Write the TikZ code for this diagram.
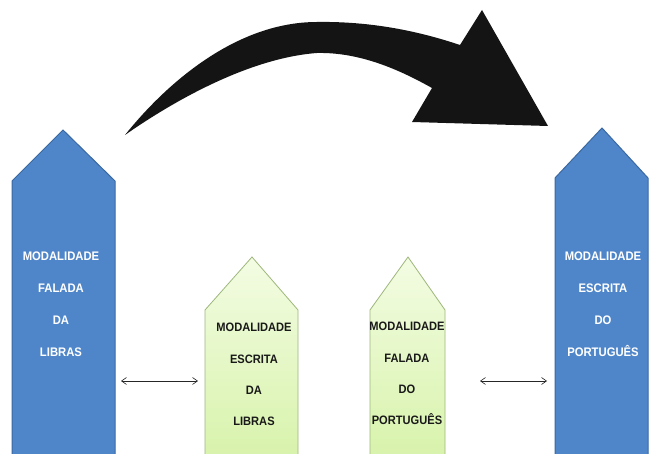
\documentclass[tikz,border=0pt]{standalone}
\usepackage{fontspec}
\setmainfont{Liberation Sans}
\newfontfamily\lblfont[FakeStretch=0.91]{Liberation Sans}
\usetikzlibrary{arrows.meta}
\definecolor{bluefill}{HTML}{4F86CA}
\definecolor{blueline}{HTML}{3A68A2}
\definecolor{greentop}{HTML}{F3FCE3}
\definecolor{greenbot}{HTML}{D8F3AC}
\definecolor{greenline}{HTML}{9EB77C}
\tikzset{
  bluebox/.style={fill=bluefill, draw=blueline, line width=1pt, line join=miter},
  greenbox/.style={top color=greentop, bottom color=greenbot, draw=greenline, line width=0.8pt},
  bluetext/.style={text=white, font=\lblfont\fontsize{12.4}{32}\selectfont\bfseries, align=center, inner sep=0pt},
  greentext/.style={text=black!90, font=\lblfont\fontsize{12.2}{31.3}\selectfont\bfseries, align=center, inner sep=0pt},
  thinarrow/.style={{Straight Barb[length=5pt,width=7pt]}-{Straight Barb[length=5pt,width=7pt]}, line width=0.6pt, black!85}
}
\begin{document}
\begin{tikzpicture}[x=1pt,y=-1pt]
\useasboundingbox (0,0) rectangle (649,454);
\fill[white] (0,0) rectangle (649,454);
% big curved arrow
\fill[black!92] (125,135) .. controls (165,85) and (235,22) .. (317,22)
  .. controls (380,21) and (430,35) .. (460,45)
  -- (482,10) -- (548,126) -- (412,122) -- (432,88)
  .. controls (400,70) and (360,52) .. (317,53)
  .. controls (250,58) and (175,100) .. (125,135) -- cycle;
% blue boxes
\draw[bluebox] (12,455) -- (12,181) -- (63,130) -- (115,181) -- (115,455);
\draw[bluebox] (555,455) -- (555,178) -- (602,128) -- (648,178) -- (648,455);
% green boxes
\draw[greenbox] (205,455) -- (205,310) -- (252,257) -- (298,310) -- (298,455);
\draw[greenbox] (370,455) -- (370,310) -- (408,257) -- (445,310) -- (445,455);
% texts
\node[bluetext, anchor=north] (t1) at (61,252) {MODALIDADE\\FALADA\\DA\\LIBRAS};
\node[bluetext, anchor=north] (t4) at (603,252) {MODALIDADE\\ESCRITA\\DO\\PORTUGUÊS};
\node[greentext, anchor=north] (t2) at (254,323) {MODALIDADE\\ESCRITA\\DA\\LIBRAS};
\node[greentext, anchor=north] (t3) at (407,322) {MODALIDADE\\FALADA\\DO\\PORTUGUÊS};
% double arrows
\coordinate (a1) at (121,381);
\coordinate (a2) at (198,381);
\coordinate (b1) at (480,381);
\coordinate (b2) at (547,381);
\draw[thinarrow] (a1) -- (a2);
\draw[thinarrow] (b1) -- (b2);
\end{tikzpicture}
\end{document}
